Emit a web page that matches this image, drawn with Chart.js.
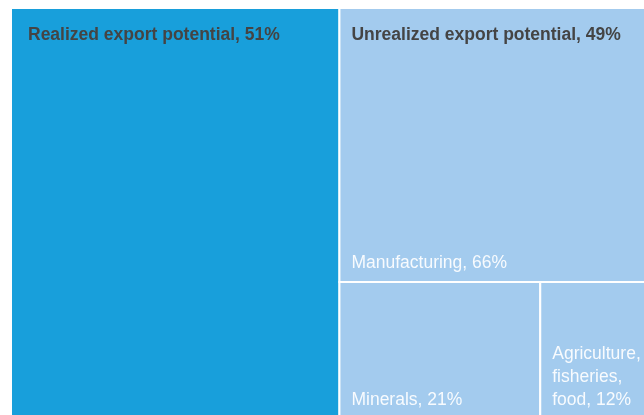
<!DOCTYPE html>
<html lang="en">
<head>
    <meta charset="UTF-8">
    <title>Export potential treemap</title>
    <script src="https://cdn.jsdelivr.net/npm/chart.js"></script>
    <style>
        body { margin: 0; background: #fff; overflow: hidden; }
        #wrap { position: absolute; left: 0; top: 0; width: 666px; height: 430px; }
    </style>
</head>
<body>
    <div id="wrap">
        <canvas id="treeCanvas" width="666" height="430"></canvas>
    </div>
    <script>
        // top level split
        var groupNames = ['Realized export potential', 'Unrealized export potential'];
        var groupShares = [51, 49];
        // breakdown of the unrealized part
        var sectorNames = ['Manufacturing', 'Minerals', 'Agriculture, fisheries, food'];
        var sectorShares = [66, 21, 12];

        var realizedColor = '#189fdb';
        var unrealizedColor = '#a3cbee';

        // slice-and-dice layout in data units (x 0..100, y 0..100, y up)
        function buildRects() {
            var rects = [];
            var total = groupShares[0] + groupShares[1];
            var wReal = groupShares[0] / total * 100;
            rects.push({ x0: 0, x1: wReal, y0: 0, y1: 100, color: realizedColor,
                label: groupNames[0] + ', ' + groupShares[0] + '%', bold: true, at: 'top' });
            var sTotal = sectorShares.reduce(function (a, b) { return a + b; }, 0);
            var hTop = sectorShares[0] / sTotal * 100;
            rects.push({ x0: wReal, x1: 100, y0: 100 - hTop, y1: 100, color: unrealizedColor,
                label: sectorNames[0] + ', ' + sectorShares[0] + '%', bold: false, at: 'bottom' });
            var restTotal = sectorShares[1] + sectorShares[2];
            var xs = wReal;
            for (var i = 1; i < sectorShares.length; i++) {
                var w = sectorShares[i] / restTotal * (100 - wReal);
                rects.push({ x0: xs, x1: xs + w, y0: 0, y1: 100 - hTop, color: unrealizedColor,
                    label: sectorNames[i] + ', ' + sectorShares[i] + '%', bold: false, at: 'bottom' });
                xs += w;
            }
            // group header for the unrealized block
            rects.push({ x0: wReal, x1: 100, y0: 0, y1: 100, color: null,
                label: groupNames[1] + ', ' + groupShares[1] + '%', bold: true, at: 'top' });
            return rects;
        }

        function wrapText(ctx, text, maxW) {
            var words = text.split(' ');
            var lines = [];
            var line = '';
            words.forEach(function (w) {
                var test = line ? line + ' ' + w : w;
                if (ctx.measureText(test).width > maxW && line) {
                    lines.push(line);
                    line = w;
                } else {
                    line = test;
                }
            });
            if (line) lines.push(line);
            return lines;
        }

        var treemapPlugin = {
            id: 'treemapRects',
            beforeDatasetsDraw: function (chart) {
                var ctx = chart.ctx;
                var xs = chart.scales.x, ys = chart.scales.y;
                var rects = buildRects();
                ctx.save();
                rects.forEach(function (r) {
                    if (!r.color) return;
                    var left = xs.getPixelForValue(r.x0), right = xs.getPixelForValue(r.x1);
                    var top = ys.getPixelForValue(r.y1), bottom = ys.getPixelForValue(r.y0);
                    ctx.fillStyle = r.color;
                    ctx.fillRect(left, top, right - left, bottom - top);
                    ctx.strokeStyle = '#ffffff';
                    ctx.lineWidth = 2;
                    ctx.strokeRect(left, top, right - left, bottom - top);
                });
                var pad = 12;
                rects.forEach(function (r) {
                    var left = xs.getPixelForValue(r.x0), right = xs.getPixelForValue(r.x1);
                    var top = ys.getPixelForValue(r.y1), bottom = ys.getPixelForValue(r.y0);
                    ctx.font = (r.bold ? 'bold ' : '') + '17.5px "Liberation Sans", Arial, sans-serif';
                    ctx.fillStyle = r.bold ? '#444444' : 'rgba(255,255,255,0.92)';
                    ctx.textAlign = 'left';
                    ctx.textBaseline = 'alphabetic';
                    var tx = left + (r.x0 === 0 ? pad + 5 : pad);
                    var lines = wrapText(ctx, r.label, right - left - 2 * pad + 4);
                    var lh = 23;
                    if (r.at === 'top') {
                        lines.forEach(function (l, i) { ctx.fillText(l, tx, top + 32 + i * lh); });
                    } else {
                        var base = bottom - 14 - (lines.length - 1) * lh;
                        lines.forEach(function (l, i) { ctx.fillText(l, tx, base + i * lh); });
                    }
                });
                ctx.restore();
            }
        };

        new Chart(document.getElementById('treeCanvas').getContext('2d'), {
            type: 'scatter',
            data: { datasets: [{ data: [], pointRadius: 0 }] },
            options: {
                responsive: false,
                animation: false,
                devicePixelRatio: 1,
                layout: { padding: { left: 11, top: 8, right: 11, bottom: 11 } },
                plugins: { legend: { display: false }, tooltip: { enabled: false } },
                scales: {
                    x: { type: 'linear', min: 0, max: 100, display: false },
                    y: { type: 'linear', min: 0, max: 100, display: false }
                }
            },
            plugins: [treemapPlugin]
        });
    </script>
</body>
</html>
